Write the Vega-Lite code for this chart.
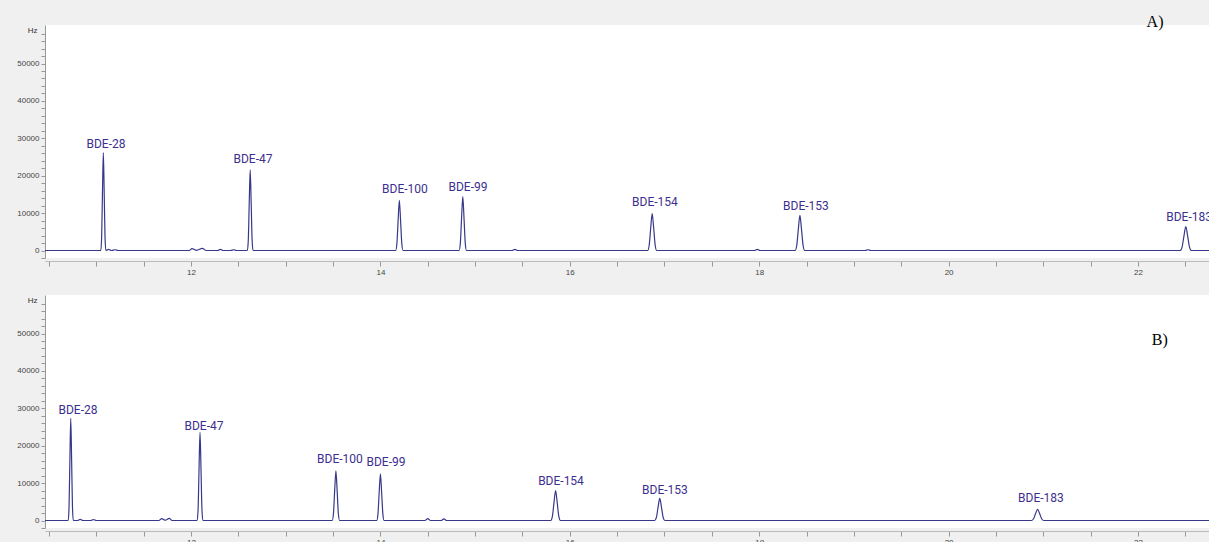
{
  "$schema": "https://vega.github.io/schema/vega-lite/v6.json",
  "background": "#f0f0f0",
  "padding": {"left": 0, "right": 0, "top": 14, "bottom": 0},
  "spacing": 19,
  "config": {
    "view": {"stroke": null, "fill": "white"},
    "axisX": {
      "offset": 3,
      "tickSize": 5,
      "tickColor": "#999999",
      "domainColor": "#bbbbbb",
      "labelFontSize": 8,
      "labelFont": "Liberation Sans",
      "labelColor": "#444444",
      "labelPadding": 2,
      "labelOverlap": false,
      "labelFlush": false,
      "grid": false
    },
    "axisY": {
      "titleFontSize": 8,
      "titleFontWeight": "normal",
      "titleFont": "Liberation Sans",
      "titleColor": "#333333",
      "tickSize": 4,
      "tickColor": "#999999",
      "domainColor": "#999999",
      "labelFontSize": 8,
      "labelFont": "Liberation Sans",
      "labelColor": "#444444",
      "labelOverlap": false,
      "minExtent": 45,
      "maxExtent": 45,
      "grid": false
    }
  },
  "datasets": {
    "trace": [
      {"panel": "A", "t": 10.458, "v": 0},
      {"panel": "A", "t": 11.047, "v": 0},
      {"panel": "A", "t": 11.056, "v": 3500},
      {"panel": "A", "t": 11.065, "v": 15700},
      {"panel": "A", "t": 11.074, "v": 26200},
      {"panel": "A", "t": 11.083, "v": 15700},
      {"panel": "A", "t": 11.092, "v": 3500},
      {"panel": "A", "t": 11.101, "v": 0},
      {"panel": "A", "t": 11.13, "v": 300},
      {"panel": "A", "t": 11.16, "v": 0},
      {"panel": "A", "t": 11.2, "v": 200},
      {"panel": "A", "t": 11.23, "v": 0},
      {"panel": "A", "t": 11.98, "v": 0},
      {"panel": "A", "t": 12.01, "v": 500},
      {"panel": "A", "t": 12.06, "v": 50},
      {"panel": "A", "t": 12.12, "v": 600},
      {"panel": "A", "t": 12.16, "v": 0},
      {"panel": "A", "t": 12.28, "v": 0},
      {"panel": "A", "t": 12.31, "v": 300},
      {"panel": "A", "t": 12.34, "v": 0},
      {"panel": "A", "t": 12.42, "v": 0},
      {"panel": "A", "t": 12.45, "v": 200},
      {"panel": "A", "t": 12.48, "v": 0},
      {"panel": "A", "t": 12.595, "v": 0},
      {"panel": "A", "t": 12.605, "v": 2900},
      {"panel": "A", "t": 12.615, "v": 13000},
      {"panel": "A", "t": 12.625, "v": 21600},
      {"panel": "A", "t": 12.635, "v": 13000},
      {"panel": "A", "t": 12.645, "v": 2900},
      {"panel": "A", "t": 12.655, "v": 0},
      {"panel": "A", "t": 14.161, "v": 0},
      {"panel": "A", "t": 14.174, "v": 1800},
      {"panel": "A", "t": 14.187, "v": 8000},
      {"panel": "A", "t": 14.2, "v": 13400},
      {"panel": "A", "t": 14.213, "v": 8000},
      {"panel": "A", "t": 14.226, "v": 1800},
      {"panel": "A", "t": 14.239, "v": 0},
      {"panel": "A", "t": 14.831, "v": 0},
      {"panel": "A", "t": 14.844, "v": 1950},
      {"panel": "A", "t": 14.857, "v": 8600},
      {"panel": "A", "t": 14.87, "v": 14400},
      {"panel": "A", "t": 14.883, "v": 8600},
      {"panel": "A", "t": 14.896, "v": 1950},
      {"panel": "A", "t": 14.909, "v": 0},
      {"panel": "A", "t": 15.39, "v": 0},
      {"panel": "A", "t": 15.42, "v": 300},
      {"panel": "A", "t": 15.45, "v": 0},
      {"panel": "A", "t": 16.822, "v": 0},
      {"panel": "A", "t": 16.838, "v": 1340},
      {"panel": "A", "t": 16.854, "v": 5900},
      {"panel": "A", "t": 16.87, "v": 9900},
      {"panel": "A", "t": 16.886, "v": 5900},
      {"panel": "A", "t": 16.902, "v": 1340},
      {"panel": "A", "t": 16.918, "v": 0},
      {"panel": "A", "t": 17.95, "v": 0},
      {"panel": "A", "t": 17.98, "v": 300},
      {"panel": "A", "t": 18.01, "v": 0},
      {"panel": "A", "t": 18.379, "v": 0},
      {"panel": "A", "t": 18.396, "v": 1270},
      {"panel": "A", "t": 18.413, "v": 5600},
      {"panel": "A", "t": 18.43, "v": 9400},
      {"panel": "A", "t": 18.447, "v": 5600},
      {"panel": "A", "t": 18.464, "v": 1270},
      {"panel": "A", "t": 18.481, "v": 0},
      {"panel": "A", "t": 19.12, "v": 0},
      {"panel": "A", "t": 19.15, "v": 200},
      {"panel": "A", "t": 19.18, "v": 0},
      {"panel": "A", "t": 22.445, "v": 0},
      {"panel": "A", "t": 22.465, "v": 860},
      {"panel": "A", "t": 22.485, "v": 3800},
      {"panel": "A", "t": 22.505, "v": 6400},
      {"panel": "A", "t": 22.525, "v": 3800},
      {"panel": "A", "t": 22.545, "v": 860},
      {"panel": "A", "t": 22.565, "v": 0},
      {"panel": "A", "t": 22.75, "v": 0},
      {"panel": "B", "t": 10.458, "v": 0},
      {"panel": "B", "t": 10.703, "v": 0},
      {"panel": "B", "t": 10.712, "v": 3700},
      {"panel": "B", "t": 10.721, "v": 16400},
      {"panel": "B", "t": 10.73, "v": 27300},
      {"panel": "B", "t": 10.739, "v": 16400},
      {"panel": "B", "t": 10.748, "v": 3700},
      {"panel": "B", "t": 10.757, "v": 0},
      {"panel": "B", "t": 10.8, "v": 0},
      {"panel": "B", "t": 10.83, "v": 300},
      {"panel": "B", "t": 10.86, "v": 0},
      {"panel": "B", "t": 10.94, "v": 0},
      {"panel": "B", "t": 10.97, "v": 250},
      {"panel": "B", "t": 11.0, "v": 0},
      {"panel": "B", "t": 11.66, "v": 0},
      {"panel": "B", "t": 11.69, "v": 500},
      {"panel": "B", "t": 11.73, "v": 80},
      {"panel": "B", "t": 11.77, "v": 600},
      {"panel": "B", "t": 11.8, "v": 0},
      {"panel": "B", "t": 12.065, "v": 0},
      {"panel": "B", "t": 12.075, "v": 3200},
      {"panel": "B", "t": 12.085, "v": 14200},
      {"panel": "B", "t": 12.095, "v": 23600},
      {"panel": "B", "t": 12.105, "v": 14200},
      {"panel": "B", "t": 12.115, "v": 3200},
      {"panel": "B", "t": 12.125, "v": 0},
      {"panel": "B", "t": 13.491, "v": 0},
      {"panel": "B", "t": 13.504, "v": 1800},
      {"panel": "B", "t": 13.517, "v": 8000},
      {"panel": "B", "t": 13.53, "v": 13300},
      {"panel": "B", "t": 13.543, "v": 8000},
      {"panel": "B", "t": 13.556, "v": 1800},
      {"panel": "B", "t": 13.569, "v": 0},
      {"panel": "B", "t": 13.961, "v": 0},
      {"panel": "B", "t": 13.974, "v": 1700},
      {"panel": "B", "t": 13.987, "v": 7500},
      {"panel": "B", "t": 14.0, "v": 12500},
      {"panel": "B", "t": 14.013, "v": 7500},
      {"panel": "B", "t": 14.026, "v": 1700},
      {"panel": "B", "t": 14.039, "v": 0},
      {"panel": "B", "t": 14.47, "v": 0},
      {"panel": "B", "t": 14.5, "v": 500},
      {"panel": "B", "t": 14.53, "v": 0},
      {"panel": "B", "t": 14.64, "v": 0},
      {"panel": "B", "t": 14.67, "v": 450},
      {"panel": "B", "t": 14.7, "v": 0},
      {"panel": "B", "t": 15.799, "v": 0},
      {"panel": "B", "t": 15.816, "v": 1080},
      {"panel": "B", "t": 15.833, "v": 4800},
      {"panel": "B", "t": 15.85, "v": 8000},
      {"panel": "B", "t": 15.867, "v": 4800},
      {"panel": "B", "t": 15.884, "v": 1080},
      {"panel": "B", "t": 15.901, "v": 0},
      {"panel": "B", "t": 16.896, "v": 0},
      {"panel": "B", "t": 16.914, "v": 800},
      {"panel": "B", "t": 16.932, "v": 3540},
      {"panel": "B", "t": 16.95, "v": 5900},
      {"panel": "B", "t": 16.968, "v": 3540},
      {"panel": "B", "t": 16.986, "v": 800},
      {"panel": "B", "t": 17.004, "v": 0},
      {"panel": "B", "t": 20.874, "v": 0},
      {"panel": "B", "t": 20.896, "v": 400},
      {"panel": "B", "t": 20.918, "v": 1800},
      {"panel": "B", "t": 20.94, "v": 3000},
      {"panel": "B", "t": 20.962, "v": 1800},
      {"panel": "B", "t": 20.984, "v": 400},
      {"panel": "B", "t": 21.006, "v": 0},
      {"panel": "B", "t": 22.75, "v": 0}
    ],
    "labels": [
      {"panel": "A", "t": 11.102, "v": 28600, "label": "BDE-28"},
      {"panel": "A", "t": 12.654, "v": 24600, "label": "BDE-47"},
      {"panel": "A", "t": 14.259, "v": 16580, "label": "BDE-100"},
      {"panel": "A", "t": 14.925, "v": 17100, "label": "BDE-99"},
      {"panel": "A", "t": 16.899, "v": 13100, "label": "BDE-154"},
      {"panel": "A", "t": 18.494, "v": 12030, "label": "BDE-153"},
      {"panel": "A", "t": 22.54, "v": 9090, "label": "BDE-183"},
      {"panel": "B", "t": 10.806, "v": 29680, "label": "BDE-28"},
      {"panel": "B", "t": 12.137, "v": 25400, "label": "BDE-47"},
      {"panel": "B", "t": 13.573, "v": 16580, "label": "BDE-100"},
      {"panel": "B", "t": 14.059, "v": 15780, "label": "BDE-99"},
      {"panel": "B", "t": 15.907, "v": 10700, "label": "BDE-154"},
      {"panel": "B", "t": 17.005, "v": 8290, "label": "BDE-153"},
      {"panel": "B", "t": 20.975, "v": 6150, "label": "BDE-183"}
    ],
    "tags": [
      {"panel": "A", "t": 22.18, "v": 61100, "tag": "A)"},
      {"panel": "B", "t": 22.23, "v": 48400, "tag": "B)"}
    ]
  },
  "vconcat": [
    {
      "width": 1164,
      "height": 233,
      "encoding": {
        "x": {
          "field": "t", "type": "quantitative",
          "scale": {"domain": [10.458, 22.75], "nice": false, "zero": false},
          "axis": {
            "title": null,
            "values": [10.5, 11, 11.5, 12, 12.5, 13, 13.5, 14, 14.5, 15, 15.5, 16, 16.5, 17, 17.5, 18, 18.5, 19, 19.5, 20, 20.5, 21, 21.5, 22, 22.5],
            "tickCount": 100,
            "labelExpr": "datum.value % 2 === 0 ? format(datum.value, 'd') : ''"
          }
        },
        "y": {
          "field": "v", "type": "quantitative",
          "scale": {"domain": [-2000, 60300], "nice": false, "zero": false},
          "axis": {
            "values": [-2000, 0, 2000, 4000, 6000, 8000, 10000, 12000, 14000, 16000, 18000, 20000, 22000, 24000, 26000, 28000, 30000, 32000, 34000, 36000, 38000, 40000, 42000, 44000, 46000, 48000, 50000, 52000, 54000, 56000, 58000],
            "tickCount": 100,
            "labelExpr": "datum.value % 10000 === 0 ? format(datum.value, 'd') : ''",
            "title": "Hz",
            "titleAngle": 0,
            "titleAlign": "right",
            "titleBaseline": "middle",
            "titleX": -8,
            "titleY": 5
          }
        }
      },
      "layer": [
        {
          "data": {"name": "trace"},
          "transform": [{"filter": "datum.panel === 'A'"}],
          "mark": {"type": "line", "interpolate": "monotone", "color": "#38388a", "strokeWidth": 1.2}
        },
        {
          "data": {"name": "labels"},
          "transform": [{"filter": "datum.panel === 'A'"}],
          "mark": {"type": "text", "font": "Roboto", "fontSize": 12, "color": "#3b2f8f", "baseline": "middle", "align": "center"},
          "encoding": {"text": {"field": "label"}}
        },
        {
          "data": {"name": "tags"},
          "transform": [{"filter": "datum.panel === 'A'"}],
          "mark": {"type": "text", "font": "Liberation Serif", "fontSize": 16, "color": "#000000", "baseline": "middle", "align": "center", "clip": false},
          "encoding": {"text": {"field": "tag"}}
        }
      ]
    },
    {
      "width": 1164,
      "height": 233,
      "encoding": {
        "x": {
          "field": "t", "type": "quantitative",
          "scale": {"domain": [10.458, 22.75], "nice": false, "zero": false},
          "axis": {
            "title": null,
            "values": [10.5, 11, 11.5, 12, 12.5, 13, 13.5, 14, 14.5, 15, 15.5, 16, 16.5, 17, 17.5, 18, 18.5, 19, 19.5, 20, 20.5, 21, 21.5, 22, 22.5],
            "tickCount": 100,
            "labelExpr": "datum.value % 2 === 0 ? format(datum.value, 'd') : ''"
          }
        },
        "y": {
          "field": "v", "type": "quantitative",
          "scale": {"domain": [-2000, 60300], "nice": false, "zero": false},
          "axis": {
            "values": [-2000, 0, 2000, 4000, 6000, 8000, 10000, 12000, 14000, 16000, 18000, 20000, 22000, 24000, 26000, 28000, 30000, 32000, 34000, 36000, 38000, 40000, 42000, 44000, 46000, 48000, 50000, 52000, 54000, 56000, 58000],
            "tickCount": 100,
            "labelExpr": "datum.value % 10000 === 0 ? format(datum.value, 'd') : ''",
            "title": "Hz",
            "titleAngle": 0,
            "titleAlign": "right",
            "titleBaseline": "middle",
            "titleX": -8,
            "titleY": 5
          }
        }
      },
      "layer": [
        {
          "data": {"name": "trace"},
          "transform": [{"filter": "datum.panel === 'B'"}],
          "mark": {"type": "line", "interpolate": "monotone", "color": "#38388a", "strokeWidth": 1.2}
        },
        {
          "data": {"name": "labels"},
          "transform": [{"filter": "datum.panel === 'B'"}],
          "mark": {"type": "text", "font": "Roboto", "fontSize": 12, "color": "#3b2f8f", "baseline": "middle", "align": "center"},
          "encoding": {"text": {"field": "label"}}
        },
        {
          "data": {"name": "tags"},
          "transform": [{"filter": "datum.panel === 'B'"}],
          "mark": {"type": "text", "font": "Liberation Serif", "fontSize": 16, "color": "#000000", "baseline": "middle", "align": "center"},
          "encoding": {"text": {"field": "tag"}}
        }
      ]
    }
  ]
}
